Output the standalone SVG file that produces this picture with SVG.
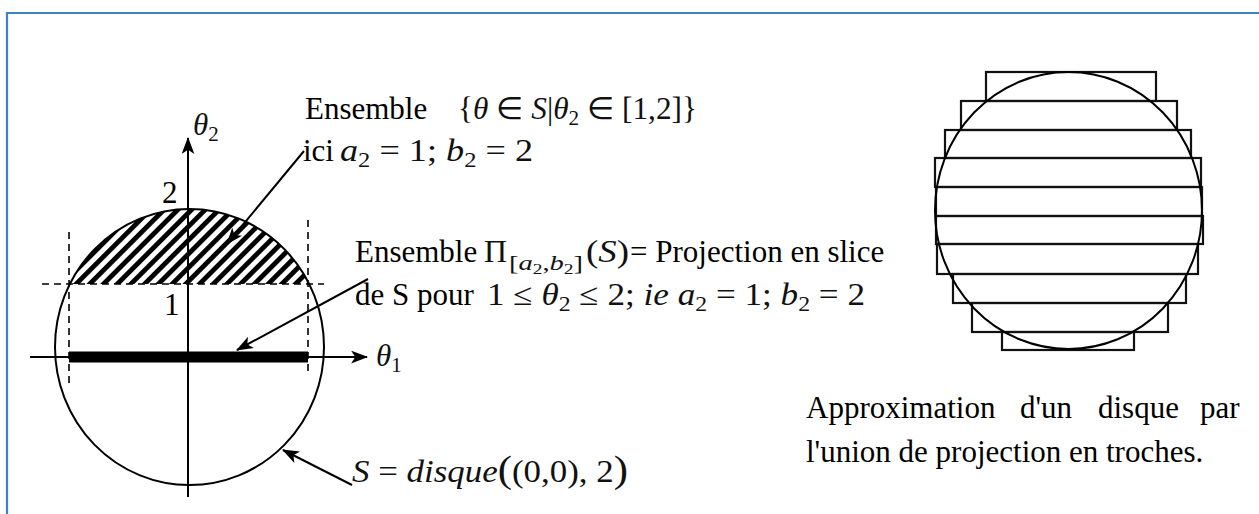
<svg xmlns="http://www.w3.org/2000/svg" width="1259" height="514" viewBox="0 0 1259 514">
<style>
.t{font-family:"Liberation Serif","Times New Roman",serif;font-size:31px;fill:#000}
.m{font-family:"Liberation Serif","Times New Roman",serif;font-size:31px;fill:#111}
.i{font-style:italic}
.ln{stroke:#000;stroke-width:2;fill:none}
.dash{stroke:#000;stroke-width:1.6;stroke-dasharray:7 5;fill:none}
.slab{stroke:#111;stroke-width:2.2;fill:none}
</style>
<defs>
<marker id="ah" viewBox="0 0 16 12" markerWidth="17" markerHeight="13" refX="15" refY="6" orient="auto" markerUnits="userSpaceOnUse">
<path d="M0,0 L16,6 L0,12 L4,6 z" fill="#000"/>
</marker>
<pattern id="hatch" patternUnits="userSpaceOnUse" width="9.7" height="9.7" patternTransform="rotate(45)">
<rect x="0" y="0" width="4.8" height="9.7" fill="#000"/>
</pattern>
<clipPath id="seg">
<rect x="40" y="200" width="300" height="84"/>
</clipPath>
</defs>
<rect width="1259" height="514" fill="#fff"/>
<path d="M7,514 V13 H1259" fill="none" stroke="#3f80c6" stroke-width="2.2"/>

<g id="left-figure">
<g id="hatched-set">
<ellipse cx="189.5" cy="347" rx="134.5" ry="138" fill="url(#hatch)" clip-path="url(#seg)"/>
</g>
<g id="disk">
<ellipse cx="189.5" cy="347" rx="134.5" ry="138" class="ln" stroke-width="1.6"/>
</g>
<g id="guides">
<line x1="42" y1="284" x2="324" y2="284" class="dash"/>
<line x1="69" y1="232" x2="69" y2="384" class="dash"/>
<line x1="308" y1="220" x2="308" y2="374" class="dash"/>
</g>
<g id="projection-bar">
<rect x="69" y="351.5" width="239" height="11" fill="#000"/>
</g>
<g id="axes">
<line x1="30" y1="357" x2="367" y2="357" class="ln" marker-end="url(#ah)"/>
<line x1="188" y1="497" x2="188" y2="138" class="ln" marker-end="url(#ah)"/>
<text class="m" x="193" y="135"><tspan class="i">θ</tspan><tspan font-size="21" dy="6">2</tspan></text>
<text class="m" x="376" y="366"><tspan class="i">θ</tspan><tspan font-size="21" dy="6">1</tspan></text>
<text class="t" x="162" y="203">2</text>
<text class="t" x="164" y="315">1</text>
</g>
</g>

<g id="connectors">
<line x1="304" y1="151" x2="227" y2="244" class="ln" marker-end="url(#ah)"/>
<line x1="368" y1="279" x2="237" y2="350" class="ln" marker-end="url(#ah)"/>
<line x1="352" y1="485" x2="283" y2="450" class="ln" marker-end="url(#ah)"/>
</g>

<g id="label-set">
<text class="t" x="305" y="119">Ensemble</text>
<text class="m" x="458" y="119" textLength="239" lengthAdjust="spacingAndGlyphs">{<tspan class="i">θ</tspan> ∈ <tspan class="i">S</tspan>|<tspan class="i">θ</tspan><tspan font-size="21" dy="6">2</tspan><tspan dy="-6"> ∈ [1,2]}</tspan></text>
<text class="t" x="303" y="161">ici</text>
<text class="m" x="340" y="161" textLength="193" lengthAdjust="spacingAndGlyphs"><tspan class="i">a</tspan><tspan font-size="21" dy="6">2</tspan><tspan dy="-6"> = 1; </tspan><tspan class="i">b</tspan><tspan font-size="21" dy="6">2</tspan><tspan dy="-6"> = 2</tspan></text>
</g>

<g id="label-projection">
<text class="t" x="355" y="262">Ensemble</text>
<text class="m" x="484" y="262" textLength="23" lengthAdjust="spacingAndGlyphs">Π</text>
<text class="m" x="509" y="270" textLength="74" lengthAdjust="spacingAndGlyphs" style="font-size:22px">[<tspan class="i">a</tspan><tspan style="font-size:15px" dy="4">2</tspan><tspan dy="-4">,</tspan><tspan class="i">b</tspan><tspan style="font-size:15px" dy="4">2</tspan><tspan dy="-4">]</tspan></text>
<text class="m" x="586" y="262" textLength="43" lengthAdjust="spacingAndGlyphs">(<tspan class="i">S</tspan>)</text>
<text class="t" x="630" y="262">= Projection en slice</text>
<text class="t" x="355" y="305">de S pour</text>
<text class="m" x="487" y="305" textLength="378" lengthAdjust="spacingAndGlyphs">1 ≤ <tspan class="i">θ</tspan><tspan font-size="21" dy="6">2</tspan><tspan dy="-6"> ≤ 2; </tspan><tspan class="i">ie a</tspan><tspan font-size="21" dy="6">2</tspan><tspan dy="-6"> = 1; </tspan><tspan class="i">b</tspan><tspan font-size="21" dy="6">2</tspan><tspan dy="-6"> = 2</tspan></text>
</g>

<g id="label-disk">
<text class="m" x="352" y="482" textLength="276" lengthAdjust="spacingAndGlyphs"><tspan class="i">S</tspan> = <tspan class="i">disque</tspan><tspan style="font-size:38px">(</tspan>(0,0), 2<tspan style="font-size:38px">)</tspan></text>
</g>

<g id="right-figure">
<g id="slabs">
<rect class="slab" x="986" y="72" width="170" height="29"/>
<rect class="slab" x="961" y="101" width="216" height="29"/>
<rect class="slab" x="945" y="130" width="246" height="28"/>
<rect class="slab" x="935" y="158" width="266" height="29"/>
<rect class="slab" x="936" y="187" width="266" height="29"/>
<rect class="slab" x="936" y="216" width="267" height="28"/>
<rect class="slab" x="937" y="244" width="261" height="30"/>
<rect class="slab" x="953" y="274" width="233" height="29"/>
<rect class="slab" x="972" y="303" width="196" height="29"/>
<rect class="slab" x="1002" y="332" width="132" height="18"/>
</g>
<g id="disk-approx">
<ellipse cx="1068.5" cy="210.5" rx="133.5" ry="138.5" class="ln" stroke-width="1.8"/>
</g>
</g>

<g id="caption">
<text class="t" y="418"><tspan x="806">Approximation</tspan><tspan x="1020">d'un</tspan><tspan x="1098">disque</tspan><tspan x="1200">par</tspan></text>
<text class="t" x="806" y="462">l'union de projection en troches.</text>
</g>
</svg>
